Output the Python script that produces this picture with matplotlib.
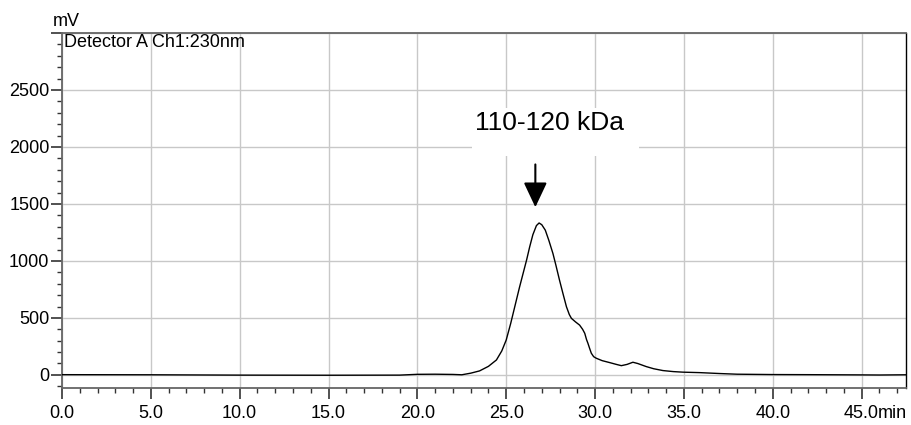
import numpy as np
import matplotlib
matplotlib.use('Agg')
import matplotlib.pyplot as plt
from matplotlib.patches import Rectangle
from matplotlib.ticker import MultipleLocator, FuncFormatter

plt.rcParams['font.family'] = ['Liberation Sans', 'DejaVu Sans']

# хроматограмма, время (мин) и сигнал (мВ)
time_min = [0, 5, 10, 15, 19, 20, 21, 22, 22.5, 23.0, 23.5, 24.0, 24.45, 24.75,
            25.0, 25.25, 25.5, 25.75, 25.95, 26.15, 26.32, 26.5, 26.7, 26.85,
            27.0, 27.2, 27.4, 27.63, 27.8, 28.0, 28.2, 28.39, 28.55, 28.67,
            28.9, 29.13, 29.3, 29.42, 29.52, 29.6, 29.7, 29.79, 29.92, 30.07,
            30.4, 30.82, 31.2, 31.48, 31.8, 32.13, 32.4, 32.88, 33.3, 33.82,
            34.4, 34.94, 35.88, 37, 38, 40, 42, 45, 46, 47.5]
signal_mv = [2, 1, -2, -3, -2, 5, 6, 4, 1, 15, 35, 75, 131, 210,
             306, 450, 610, 770, 890, 1010, 1123, 1230, 1310, 1333,
             1318, 1270, 1180, 1065, 960, 831, 710, 598, 530, 496,
             465, 437, 400, 365, 310, 277, 230, 190, 160, 146,
             125, 108, 92, 81, 92, 111, 100, 73, 54, 38,
             29, 24, 20, 12, 6, 3, 2, 0, -1, 1]

peak_label = '110-120 kDa'
peak_time = 26.64

FS = 13
TICK_LEN = 8
TICK_PAD = 4.5

fig = plt.figure(figsize=(9.12, 4.25), dpi=100)
ax = fig.add_axes([62 / 912, 1 - 388 / 425, 844 / 912, 355 / 425])

ax.plot(time_min, signal_mv, color='black', lw=1.0, zorder=3)

ax.set_xlim(0, 47.5)
ax.set_ylim(-115, 3000)

ax.xaxis.set_major_locator(MultipleLocator(5))
ax.xaxis.set_minor_locator(MultipleLocator(1))
ax.yaxis.set_major_locator(MultipleLocator(500))
ax.yaxis.set_minor_locator(MultipleLocator(100))

ax.xaxis.set_major_formatter(FuncFormatter(lambda v, p: '%.1f' % v))
ax.yaxis.set_major_formatter(FuncFormatter(lambda v, p: '%d' % v if v < 2600 else ''))

ax.tick_params(axis='both', which='major', length=TICK_LEN, width=1.2, color='#333333',
               labelsize=FS, pad=1)
ax.tick_params(axis='both', which='minor', length=3.8, width=1.0, color='#333333')
ax.tick_params(axis='x', which='major', pad=TICK_PAD)

ax.grid(True, which='major', color='#c8c8c8', lw=1.0, zorder=0)
ax.set_axisbelow(True)

for s in ['left', 'bottom', 'top']:
    ax.spines[s].set_color('#666666')
    ax.spines[s].set_linewidth(1.3)
ax.spines['right'].set_color('black')
ax.spines['right'].set_linewidth(1.0)

# "min" после последней метки
ax.annotate('min', xy=(45.0, 0), xycoords=('data', 'axes fraction'),
            xytext=(11.6, -(TICK_LEN + TICK_PAD)), textcoords='offset points',
            ha='left', va='top', fontsize=FS)
fig.text(66 / 912, 1 - 22 / 425, 'mV', ha='center', va='center', fontsize=FS)
ax.text(0.002, 0.997, 'Detector A Ch1:230nm', transform=ax.transAxes,
        ha='left', va='top', fontsize=FS)

# белая подложка под надписью пика
ax.add_patch(Rectangle((23.1, 1925), 9.4, 420, facecolor='white', edgecolor='none', zorder=1))
ax.text(27.45, 2213, peak_label, ha='center', va='center', fontsize=19, zorder=4)
ax.annotate('', xy=(peak_time, 1447), xytext=(peak_time, 1871),
            arrowprops=dict(arrowstyle='-|>,head_length=0.85,head_width=0.4',
                            mutation_scale=18, lw=1.5, color='black'), zorder=4)

fig.savefig('out.png', dpi=100)
